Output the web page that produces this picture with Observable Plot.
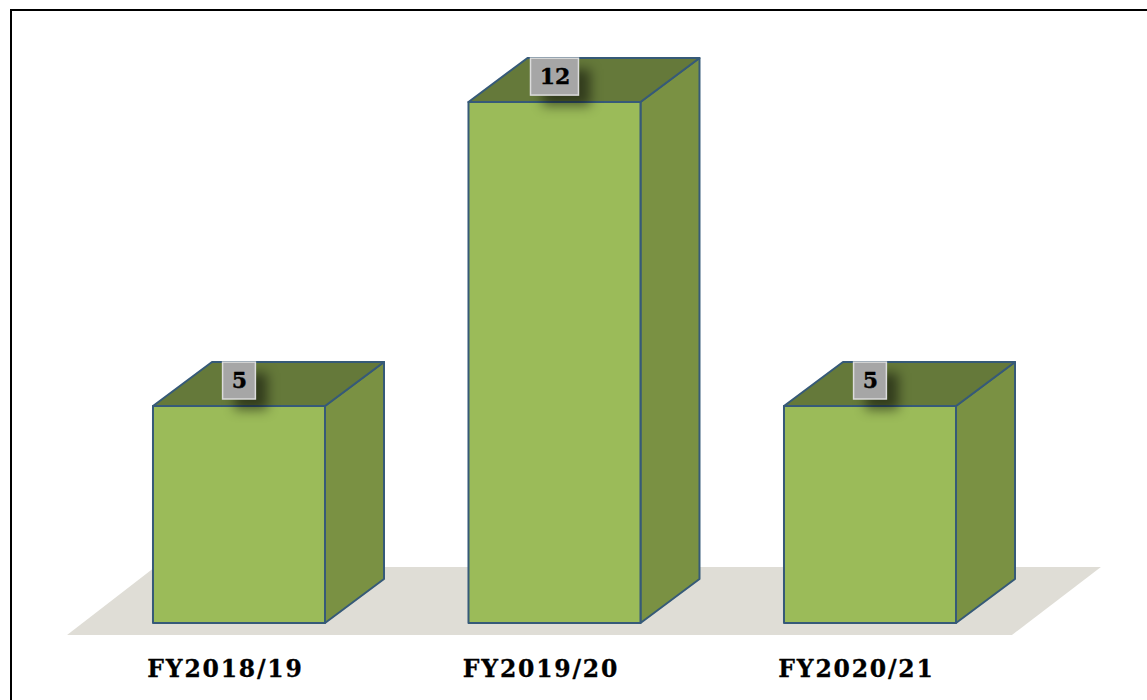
<!DOCTYPE html>
<html>
<head>
<meta charset="utf-8">
<script src="https://cdn.jsdelivr.net/npm/d3@7"></script>
<script src="https://cdn.jsdelivr.net/npm/@observablehq/plot@0.6"></script>
<style>
  html, body { margin: 0; padding: 0; background: #fff; overflow: hidden; }
  #chart { position: relative; width: 1147px; height: 700px; }
  #chart svg { display: block; }
  #edge { position: absolute; left: 10px; top: 9px; right: 0; bottom: 0;
          border-left: 2.5px solid #000; border-top: 2.5px solid #000; pointer-events: none; }
</style>
</head>
<body>
<div id="chart"><div id="edge"></div></div>
<script>
const categories = ["FY2018/19", "FY2019/20", "FY2020/21"];
const values = [5, 12, 5];

const halfWidth = 0.2726;
const depthX = 0.187;
const depthY = 1.013;

const bars = categories.map((c, i) => ({c, i, v: values[i]}));

const sidePts = bars.flatMap(b => [
  {c: b.c, x: b.i + halfWidth, y1: 0, y2: b.v},
  {c: b.c, x: b.i + halfWidth + depthX, y1: depthY, y2: b.v + depthY}
]);
const topPts = bars.flatMap(b => [
  {c: b.c, y: b.v, x1: b.i - halfWidth, x2: b.i + halfWidth},
  {c: b.c, y: b.v + depthY, x1: b.i - halfWidth + depthX, x2: b.i + halfWidth + depthX}
]);
const floorPts = [
  {y: -0.276, x1: -0.545, x2: 2.45},
  {y: 1.29, x1: -0.266, x2: 2.732}
];
const labelBoxes = bars.map(b => {
  const w = String(b.v).length > 1 ? 0.076 : 0.052;
  return {...b, x1: b.i - w, x2: b.i + w, y1: b.v + 0.16, y2: b.v + 1.01};
});

const edge = "#365a78";
const soft = "blur(0.5px)";
const font = "'DejaVu Serif', serif";

const plot = Plot.plot({
  width: 1147,
  height: 700,
  margin: 0,
  style: {background: "transparent"},
  x: {domain: [-0.7575, 2.878], axis: null},
  y: {domain: [-1.773, 14.35], axis: null},
  marks: [
    Plot.areaX(floorPts, {y: "y", x1: "x1", x2: "x2", fill: "#dfddd6", imageFilter: "blur(0.7px)"}),
    Plot.areaY(sidePts, {x: "x", y1: "y1", y2: "y2", z: "c", fill: "#7a9143", stroke: edge, strokeWidth: 2, strokeLinejoin: "round", imageFilter: soft}),
    Plot.areaX(topPts, {y: "y", x1: "x1", x2: "x2", z: "c", fill: "#65793a", stroke: edge, strokeWidth: 2, strokeLinejoin: "round", imageFilter: soft}),
    Plot.rectY(bars, {x1: d => d.i - halfWidth, x2: d => d.i + halfWidth, y1: 0, y2: "v", fill: "#9bbb59", stroke: edge, strokeWidth: 2, strokeLinejoin: "round", imageFilter: soft}),
    Plot.rect(labelBoxes, {x1: "x1", x2: "x2", y1: "y1", y2: "y2", dx: 12, dy: 11, fill: "#000", fillOpacity: 0.5, imageFilter: "blur(6px)"}),
    Plot.rect(labelBoxes, {x1: "x1", x2: "x2", y1: "y1", y2: "y2", fill: "#a6a6a6", stroke: "#dcdcdc", strokeWidth: 1.5, imageFilter: soft}),
    Plot.text(labelBoxes, {x: "i", y: d => (d.y1 + d.y2) / 2, text: d => String(d.v), fill: "#000", stroke: "#000", strokeWidth: 0.4, fontFamily: font, fontWeight: 700, fontSize: 22}),
    Plot.text(bars, {x: "i", y: -1.06, dx: -14, text: "c", fill: "#000", stroke: "#000", strokeWidth: 0.3, fontFamily: font, fontWeight: 700, fontSize: 23.5, render(i, s, v, d, c, next) { const g = next(i, s, v, d, c); g.style.letterSpacing = "1.8px"; return g; }})
  ]
});
document.getElementById("chart").prepend(plot);
</script>
</body>
</html>
